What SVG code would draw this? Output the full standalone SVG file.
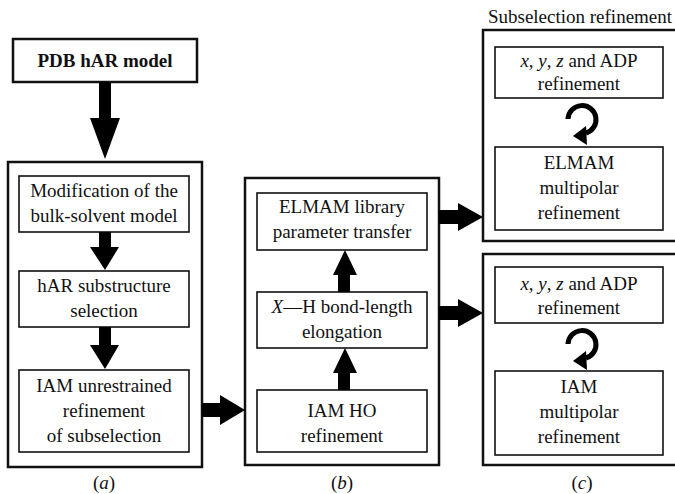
<svg xmlns="http://www.w3.org/2000/svg" width="675" height="494" viewBox="0 0 675 494">
<style>
text{font-family:"Liberation Serif",Tinos,"Times New Roman","DejaVu Serif",serif;font-size:19px;fill:#111;text-anchor:middle}
.b{font-weight:bold}
.i{font-style:italic}
.outer{fill:#fff;stroke:#111;stroke-width:2.5}
.inner{fill:#fff;stroke:#111;stroke-width:1.6}
.arr{fill:#000;stroke:none}
.loop{fill:none;stroke:#000;stroke-width:5}
</style>
<rect width="675" height="494" fill="#fff"/>

<g id="pdb">
<rect class="outer" x="13" y="39" width="184" height="43"/>
<text class="b" x="105" y="67" font-family="Liberation Serif, serif">PDB hAR model</text>
</g>

<g id="groupA">
<rect class="outer" x="8" y="162" width="194" height="305"/>
</g>
<g id="a1">
<rect class="inner" x="19" y="176" width="170" height="56"/>
<text x="104" y="197">Modification of the</text>
<text x="104" y="222">bulk-solvent model</text>
</g>
<g id="a2">
<rect class="inner" x="19" y="271" width="170" height="56"/>
<text x="104" y="292">hAR substructure</text>
<text x="104" y="317">selection</text>
</g>
<g id="a3">
<rect class="inner" x="19" y="370" width="170" height="82"/>
<text x="104" y="392">IAM unrestrained</text>
<text x="104" y="417">refinement</text>
<text x="104" y="442">of subselection</text>
</g>
<text id="labelA" x="104" y="489">(<tspan class="i">a</tspan>)</text>

<g id="groupB">
<rect class="outer" x="245" y="178" width="194" height="287"/>
</g>
<g id="b1">
<rect class="inner" x="257" y="193" width="170" height="57"/>
<text x="342" y="213">ELMAM library</text>
<text x="342" y="238">parameter transfer</text>
</g>
<g id="b2">
<rect class="inner" x="257" y="292" width="170" height="56"/>
<text x="342" y="313"><tspan class="i">X</tspan>—H bond-length</text>
<text x="342" y="338">elongation</text>
</g>
<g id="b3">
<rect class="inner" x="257" y="390" width="170" height="62"/>
<text x="342" y="417">IAM HO</text>
<text x="342" y="442">refinement</text>
</g>
<text id="labelB" x="342" y="489">(<tspan class="i">b</tspan>)</text>

<text id="titleC" x="580" y="23">Subselection refinement</text>
<g id="groupC1">
<rect class="outer" x="483" y="30" width="200" height="211"/>
</g>
<g id="c1a">
<rect class="inner" x="495" y="47" width="168" height="51"/>
<text x="579" y="67"><tspan class="i">x</tspan>, <tspan class="i">y</tspan>, <tspan class="i">z</tspan> and ADP</text>
<text x="579" y="90">refinement</text>
</g>
<g id="c1b">
<rect class="inner" x="495" y="147" width="168" height="83"/>
<text x="579" y="169">ELMAM</text>
<text x="579" y="194">multipolar</text>
<text x="579" y="219">refinement</text>
</g>

<g id="groupC2">
<rect class="outer" x="483" y="254" width="200" height="211"/>
</g>
<g id="c2a">
<rect class="inner" x="495" y="267" width="168" height="56"/>
<text x="579" y="290"><tspan class="i">x</tspan>, <tspan class="i">y</tspan>, <tspan class="i">z</tspan> and ADP</text>
<text x="579" y="314">refinement</text>
</g>
<g id="c2b">
<rect class="inner" x="495" y="371" width="168" height="84"/>
<text x="579" y="393">IAM</text>
<text x="579" y="418">multipolar</text>
<text x="579" y="443">refinement</text>
</g>
<text id="labelC" x="582" y="489">(<tspan class="i">c</tspan>)</text>

<g id="connectors">
<polygon class="arr" points="99,82 111,82 111,118 120,118 105,159 90,118 99,118"/>
<polygon class="arr" points="99,232 111,232 111,247 119,247 105,270 90,247 99,247"/>
<polygon class="arr" points="99,327 111,327 111,345 119,345 105,369 90,345 99,345"/>
<polygon class="arr" points="202,403 220,403 220,395 245,410 220,425 220,417 202,417"/>
<polygon class="arr" points="338,390 350,390 350,373 357,373 345,348 333,373 338,373"/>
<polygon class="arr" points="338,292 350,292 350,275 357,275 345,250 333,275 338,275"/>
<polygon class="arr" points="439,210 458,210 458,203 483,217 458,231 458,224 439,224"/>
<polygon class="arr" points="439,306 458,306 458,299 483,313 458,327 458,320 439,320"/>
<path class="loop" d="M568,119 A14,14 0 1 1 586,133"/>
<polygon class="arr" points="573,136 586,126 587,145"/>
<path class="loop" d="M568,344 A14,14 0 1 1 586,358"/>
<polygon class="arr" points="573,361 586,351 587,370"/>
</g>
</svg>
